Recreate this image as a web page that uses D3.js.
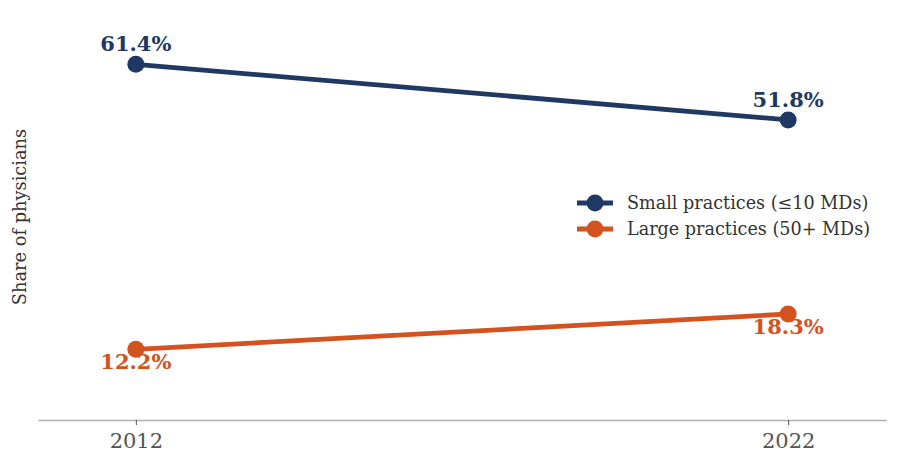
<!DOCTYPE html>
<html>
<head>
<meta charset="utf-8">
<script src="https://cdn.jsdelivr.net/npm/d3@7"></script>
<style>
  body { margin: 0; background: #fff; }
  svg text { font-family: "DejaVu Serif", serif; }
</style>
</head>
<body>
<svg width="900" height="470"></svg>
<script>
const years = [2012, 2022];
const smallShare = [61.4, 51.8];
const largeShare = [12.2, 18.3];
const seriesNames = ['Small practices (\u226410 MDs)', 'Large practices (50+ MDs)'];
const seriesColors = ['#1f3864', '#d4521e'];

const svg = d3.select('svg');

const xScale = d3.scaleLinear()
                 .domain([2010.5, 2023.5])
                 .range([38, 886]);

const yScale = d3.scaleLinear()
                 .domain([0, 70.6])
                 .range([420, 11]);

// bottom axis only
const xAxis = svg.append('g')
   .attr('transform', 'translate(0, 420)')
   .call(d3.axisBottom(xScale).tickValues(years).tickFormat(d3.format('d'))
           .tickSizeInner(5).tickSizeOuter(0).tickPadding(8));
xAxis.select('.domain').attr('stroke', '#b0b0b0').attr('stroke-width', 1.3);
xAxis.selectAll('.tick line').attr('stroke', '#555');
xAxis.selectAll('.tick text')
     .attr('fill', '#555')
     .attr('font-size', 21)
     .style('font-family', '"DejaVu Serif", serif');

const series = [
    { name: seriesNames[0], values: smallShare, color: seriesColors[0], above: true },
    { name: seriesNames[1], values: largeShare, color: seriesColors[1], above: false }
];

const line = d3.line()
               .x((d, i) => xScale(years[i]))
               .y(d => yScale(d));

series.forEach(s => {
    svg.append('path')
       .datum(s.values)
       .attr('fill', 'none')
       .attr('stroke', s.color)
       .attr('stroke-width', 4.8)
       .attr('d', line);

    svg.selectAll(null)
       .data(s.values)
       .enter()
       .append('circle')
       .attr('cx', (d, i) => xScale(years[i]))
       .attr('cy', d => yScale(d))
       .attr('r', 8.5)
       .attr('fill', s.color);

    svg.selectAll(null)
       .data(s.values)
       .enter()
       .append('text')
       .attr('x', (d, i) => xScale(years[i]))
       .attr('y', d => yScale(d) + (s.above ? -13 : 20))
       .attr('text-anchor', 'middle')
       .attr('font-size', 21)
       .attr('font-weight', 'bold')
       .attr('fill', s.color)
       .text(d => d.toFixed(1) + '%');
});

// legend
const legend = svg.append('g').attr('transform', 'translate(577, 203)');
series.forEach((s, i) => {
    const g = legend.append('g').attr('transform', `translate(0, ${i * 26})`);
    g.append('line')
     .attr('x1', 0).attr('x2', 36)
     .attr('stroke', s.color)
     .attr('stroke-width', 4.8);
    g.append('circle')
     .attr('cx', 18)
     .attr('r', 8.5)
     .attr('fill', s.color);
    g.append('text')
     .attr('x', 50)
     .attr('dy', '0.35em')
     .attr('font-size', 17.6)
     .attr('fill', '#333')
     .text(s.name);
});

svg.append('text')
   .attr('transform', 'translate(26, 217) rotate(-90)')
   .attr('text-anchor', 'middle')
   .attr('font-size', 17.8)
   .attr('fill', '#333')
   .text('Share of physicians');
</script>
</body>
</html>
